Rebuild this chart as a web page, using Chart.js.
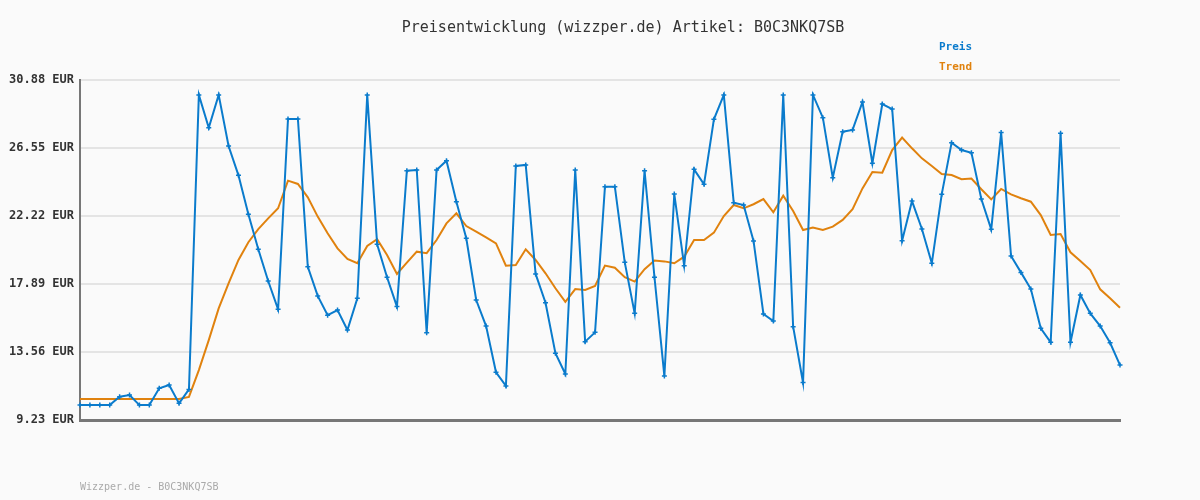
<!DOCTYPE html>
<html>
<head>
<meta charset="utf-8">
<script src="https://cdn.jsdelivr.net/npm/chart.js@4/dist/chart.umd.min.js"></script>
<style>
  body { margin: 0; background: #fafafa; }
  #wrap { width: 1200px; height: 500px; }
</style>
</head>
<body>
<div id="wrap"><canvas id="myChart" width="1200" height="500"></canvas></div>
<script>
'use strict'
var chartTitle = 'Preisentwicklung (wizzper.de) Artikel: B0C3NKQ7SB';
var footerText = 'Wizzper.de - B0C3NKQ7SB';
var seriesNames = ['Preis', 'Trend'];
var yTicks = [9.23, 13.56, 17.89, 22.22, 26.55, 30.88];

var preis = [
  10.18, 10.18, 10.18, 10.18, 10.71, 10.82, 10.18, 10.18, 11.25, 11.46,
  10.29, 11.18, 29.93, 27.84, 29.93, 26.68, 24.81, 22.33, 20.10, 18.08,
  16.28, 28.40, 28.40, 18.99, 17.13, 15.90, 16.23, 14.96, 16.98, 29.93,
  20.42, 18.32, 16.45, 25.10, 25.15, 14.79, 25.15, 25.74, 23.13, 20.80,
  16.87, 15.21, 12.27, 11.40, 25.41, 25.47, 18.53, 16.70, 13.48, 12.16,
  25.15, 14.22, 14.81, 24.09, 24.09, 19.27, 16.02, 25.10, 18.32, 12.03,
  23.62, 19.06, 25.19, 24.24, 28.38, 29.93, 23.07, 22.92, 20.63, 15.98,
  15.53, 29.93, 15.17, 11.61, 29.93, 28.48, 24.66, 27.59, 27.70, 29.48,
  25.58, 29.35, 29.03, 20.65, 23.17, 21.39, 19.21, 23.60, 26.89, 26.42,
  26.25, 23.30, 21.37, 27.53, 19.67, 18.63, 17.57, 15.07, 14.18, 27.49,
  14.18, 17.19, 16.02, 15.21, 14.15, 12.73
];

var trend = [
  10.57, 10.57, 10.57, 10.57, 10.57, 10.57, 10.57, 10.57, 10.57, 10.57,
  10.57, 10.70, 12.41, 14.32, 16.34, 17.93, 19.42, 20.55, 21.39, 22.07,
  22.71, 24.47, 24.26, 23.41, 22.18, 21.12, 20.16, 19.48, 19.21, 20.31,
  20.74, 19.74, 18.53, 19.25, 19.95, 19.85, 20.69, 21.75, 22.39, 21.58,
  21.22, 20.86, 20.48, 19.06, 19.10, 20.10, 19.42, 18.57, 17.62, 16.76,
  17.57, 17.51, 17.76, 19.06, 18.93, 18.32, 18.04, 18.83, 19.38, 19.33,
  19.21, 19.63, 20.69, 20.69, 21.16, 22.22, 22.92, 22.71, 22.97, 23.30,
  22.46, 23.51, 22.54, 21.33, 21.48, 21.33, 21.54, 21.97, 22.65, 23.98,
  25.02, 24.98, 26.42, 27.21, 26.53, 25.89, 25.40, 24.89, 24.83, 24.56,
  24.60, 23.92, 23.28, 23.94, 23.60, 23.35, 23.13, 22.28, 21.01, 21.07,
  19.91, 19.35, 18.78, 17.55, 16.98, 16.38
];

var labels = [];
for (var i = 0; i < preis.length; i++) {
  labels.push(i + 1);
}

var blue = '#0a7bcc';
var orange = '#e0820e';
var mono = '"DejaVu Sans Mono", "Liberation Mono", monospace';

// title, legend and footer text drawn on top
var extraText = {
  id: 'extraText',
  afterDraw: function (chart) {
    var ctx = chart.ctx;
    ctx.save();
    ctx.textBaseline = 'middle';
    ctx.textAlign = 'center';
    ctx.fillStyle = '#333333';
    ctx.font = '15px ' + mono;
    ctx.fillText(chartTitle, 623, 28);

    ctx.textAlign = 'left';
    ctx.font = 'bold 11px ' + mono;
    ctx.fillStyle = blue;
    ctx.fillText(seriesNames[0], 939, 47);
    ctx.fillStyle = orange;
    ctx.fillText(seriesNames[1], 939, 67);

    ctx.font = '10px ' + mono;
    ctx.fillStyle = '#aaaaaa';
    ctx.fillText(footerText, 80, 487);
    ctx.restore();
  }
};

var ctx = document.getElementById('myChart').getContext('2d');
var chart = new Chart(ctx, {
  type: 'line',
  data: {
    labels: labels,
    datasets: [
      {
        label: seriesNames[0],
        data: preis,
        borderColor: blue,
        backgroundColor: blue,
        borderWidth: 2,
        pointStyle: 'cross',
        pointRadius: 2.5,
        pointBorderWidth: 1.5,
        tension: 0
      },
      {
        label: seriesNames[1],
        data: trend,
        borderColor: orange,
        backgroundColor: orange,
        borderWidth: 2,
        pointRadius: 0,
        tension: 0
      }
    ]
  },
  options: {
    responsive: false,
    animation: false,
    layout: { padding: { left: 0, right: 80, top: 80, bottom: 80 } },
    plugins: {
      legend: { display: false },
      title: { display: false },
      tooltip: { enabled: false }
    },
    scales: {
      x: {
        type: 'category',
        offset: false,
        ticks: { display: false },
        grid: { display: false, drawTicks: false },
        border: { display: true, color: '#777777', width: 3 },
        afterFit: function (scale) { scale.height = 0; }
      },
      y: {
        min: yTicks[0],
        max: yTicks[yTicks.length - 1],
        afterBuildTicks: function (scale) {
          scale.ticks = yTicks.map(function (v) { return { value: v }; });
        },
        afterFit: function (scale) { scale.width = 80; },
        ticks: {
          padding: 6,
          color: '#333333',
          font: { family: mono, size: 12, weight: 'bold' },
          callback: function (v) { return Number(v).toFixed(2) + ' EUR'; }
        },
        grid: { color: '#e4e4e4', lineWidth: 2, drawTicks: false },
        border: { display: true, color: '#777777', width: 2 }
      }
    }
  },
  plugins: [extraText]
});
</script>
</body>
</html>
